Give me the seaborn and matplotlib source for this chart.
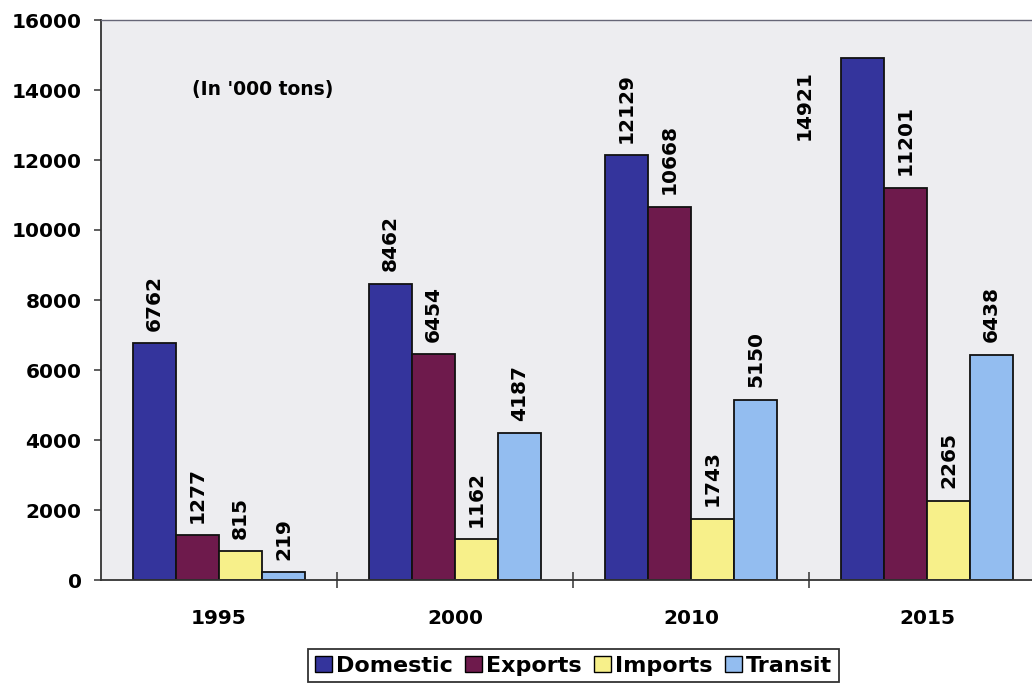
import matplotlib
matplotlib.use("Agg")
import matplotlib.pyplot as plt
from matplotlib.patches import Patch
import seaborn as sns
import pandas as pd

# Freight volumes, thousand tons
years = ["1995", "2000", "2010", "2015"]
series = ["Domestic", "Exports", "Imports", "Transit"]
domestic = [6762, 8462, 12129, 14921]
exports = [1277, 6454, 10668, 11201]
imports = [815, 1162, 1743, 2265]
transit = [219, 4187, 5150, 6438]
colors = ["#34349C", "#6E1A4C", "#F7F08A", "#93BDF0"]
y_ticks = [0, 2000, 4000, 6000, 8000, 10000, 12000, 14000, 16000]
unit_note = "(In '000 tons)"

values = [domestic, exports, imports, transit]
df = pd.DataFrame(
    [(y, s, v[i]) for s, v in zip(series, values) for i, y in enumerate(years)],
    columns=["year", "series", "value"],
)

plt.rcParams["font.family"] = ["DejaVu Sans"]
plt.rcParams["font.weight"] = "bold"

fig = plt.figure(figsize=(10.32, 6.85), dpi=100)
ax = fig.add_axes([101 / 1032, 105 / 685, 944 / 1032, 560 / 685])
ax.set_facecolor("#EDEDF0")

sns.barplot(
    data=df, x="year", y="value", hue="series", order=years, hue_order=series,
    palette=colors, width=0.73, edgecolor="#111111", linewidth=1.3,
    saturation=1, ax=ax, legend=False,
)

ax.set_xlim(-0.5, 3.5)
ax.set_ylim(0, 16000)
ax.set_yticks(y_ticks)
ax.set_yticklabels([str(t) for t in y_ticks], fontsize=14.5, fontweight="bold")
ax.set_xticks(range(len(years)))
ax.set_xticklabels(years, fontsize=14.5, fontweight="bold")
ax.set_xticks([0.5, 1.5, 2.5], minor=True)
ax.tick_params(axis="x", which="major", length=0, pad=21)
ax.tick_params(axis="x", which="minor", length=11, width=1.1,
               direction="inout", color="#333333")
ax.tick_params(axis="y", length=5, width=1.1, color="#333333", pad=9)
ax.set_xlabel("")
ax.set_ylabel("")

for side in ["left", "bottom"]:
    ax.spines[side].set_color("#333333")
    ax.spines[side].set_linewidth(1.3)
ax.spines["top"].set_color("#666677")
ax.spines["top"].set_linewidth(1.0)
ax.spines["right"].set_visible(False)

# Value labels above each bar; the tallest one sits beside its bar
for i, container in enumerate(ax.containers):
    for j, bar in enumerate(container):
        v = values[i][j]
        x = bar.get_x() + bar.get_width() / 2
        if v > 14000:
            ax.annotate(str(v), (x, v), xytext=(-42, -9), textcoords="offset points",
                        rotation=90, ha="center", va="top",
                        fontsize=14.5, fontweight="bold")
        else:
            ax.annotate(str(v), (x, v), xytext=(0, 9), textcoords="offset points",
                        rotation=90, ha="center", va="bottom",
                        fontsize=14.5, fontweight="bold")

ax.text(-0.114, 14000, unit_note, ha="left", va="center",
        fontsize=13.5, fontweight="bold")

handles = [Patch(facecolor=c, edgecolor="black", linewidth=1.0) for c in colors]
leg = fig.legend(
    handles, series, loc="upper center", bbox_to_anchor=(573.5 / 1032, 36 / 685),
    ncol=4, frameon=True, fancybox=False, edgecolor="black",
    prop={"size": 16, "weight": "bold"}, handlelength=0.75, handleheight=0.75,
    handletextpad=0.2, columnspacing=0.55, borderpad=0.3, borderaxespad=0,
)
leg.get_frame().set_linewidth(1.3)

fig.savefig("out.png", dpi=100)
